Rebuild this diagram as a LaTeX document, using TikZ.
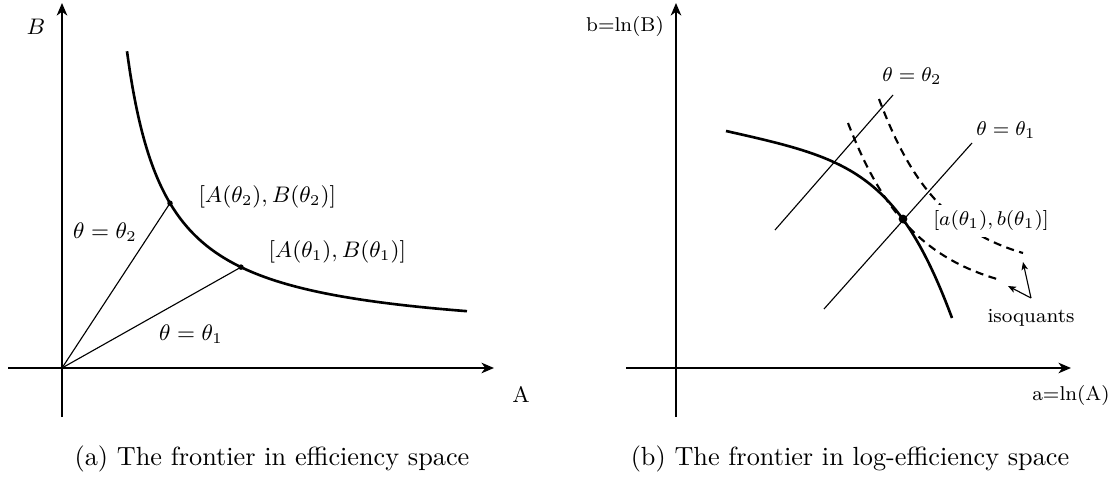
\documentclass[tikz,border=0pt]{standalone}
\usetikzlibrary{arrows.meta}
\begin{document}
\begin{tikzpicture}[x=0.4pt,y=-0.4pt,
  axis/.style={line width=0.85pt,-{Stealth[length=5pt,width=4.2pt,inset=1.5pt]}},
  frontier/.style={line width=1.05pt},
  ray/.style={line width=0.45pt},
  iso/.style={line width=0.85pt,dash pattern=on 3.2pt off 2.2pt},
  isoarrow/.style={line width=0.45pt,-{Stealth[length=3.2pt,width=2.6pt,inset=0.8pt]}},
  dotL/.style={circle,fill=black,inner sep=0pt,minimum size=2.2pt},
  dotR/.style={circle,fill=black,inner sep=0pt,minimum size=3.5pt},
  lblL/.style={inner sep=0pt,font=\fontsize{9}{11}\selectfont},
  lblR/.style={inner sep=0pt,font=\fontsize{8}{10}\selectfont},
  capt/.style={inner sep=0pt,font=\fontsize{10.5}{12.5}\selectfont}]
\useasboundingbox (0,0) rectangle (1115,486);

% ---------- left panel ----------
\coordinate (O1) at (62,368);
\coordinate (xL0) at (8,368);
\coordinate (xL1) at (494,368);
\coordinate (yL0) at (62,417);
\coordinate (yL1) at (62,3);
\draw[axis] (xL0) -- (xL1);
\draw[axis] (yL0) -- (yL1);
\draw[frontier] plot[domain=127:467,samples=120,smooth] (\x,{368-11300/(\x-88)-27});
\node[dotL] (P2) at (170,{368-11300/(170-88)-27}) {};
\node[dotL] (P1) at (241,{368-11300/(241-88)-27}) {};
\draw[ray] (O1) -- (P2.center);
\draw[ray] (O1) -- (P1.center);
\node[lblL,anchor=west] (lP2) at (198,197) {$[A(\theta_2),B(\theta_2)]$};
\node[lblL,anchor=west] (lP1) at (268,252) {$[A(\theta_1),B(\theta_1)]$};
\node[lblL] (lt2) at (105,232) {$\theta=\theta_2$};
\node[lblL] (lt1) at (191,334) {$\theta=\theta_1$};
\node[lblL] (lB) at (36,27) {$B$};
\node[lblL] (lA) at (521,394) {A};
\node[capt] (capA) at (272,459) {(a) The frontier in efficiency space};

% ---------- right panel ----------
\coordinate (xR0) at (626,368);
\coordinate (xR1) at (1071,368);
\coordinate (yR0) at (676,417);
\coordinate (yR1) at (676,3);
\draw[axis] (xR0) -- (xR1);
\draw[axis] (yR0) -- (yR1);
\coordinate (t2a) at (775,230);
\coordinate (t2b) at (893,95);
\coordinate (t1a) at (824,309);
\coordinate (t1b) at (972,143);
\draw[ray] (t2a) -- (t2b);
\draw[ray] (t1a) -- (t1b);
\coordinate (fa) at (726,131);
\coordinate (fb) at (952,318);
\draw[frontier] (fa) .. controls (846,158) and (897,170) .. (fb);
\coordinate (i1a) at (848,123);
\coordinate (i1b) at (997,279);
\draw[iso] (i1a) .. controls (878,200) and (915,255) .. (i1b);
\coordinate (i2a) at (879,99);
\coordinate (i2b) at (1023,253);
\draw[iso] (i2a) .. controls (908,176) and (944,230) .. (i2b);
\node[dotR] (Q) at (903,219) {};
\node[lblR,fill=white,inner sep=2.5pt] (lQ) at (991,221) {$[a(\theta_1),b(\theta_1)]$};
\node[lblR] (rt2) at (912,76) {$\theta=\theta_2$};
\node[lblR] (rt1) at (1006,130) {$\theta=\theta_1$};
\coordinate (ar0) at (1031,298);
\coordinate (ar1) at (1023,262);
\coordinate (ar2) at (1008,286);
\draw[isoarrow] (ar0) -- (ar1);
\draw[isoarrow] (ar0) -- (ar2);
\node[lblR] (liso) at (1031,318) {isoquants};
\node[lblR] (lb) at (625,27) {b=ln(B)};
\node[lblR] (la) at (1071,395) {a=ln(A)};
\node[capt] (capB) at (850,459) {(b) The frontier in log-efficiency space};
\end{tikzpicture}
\end{document}
